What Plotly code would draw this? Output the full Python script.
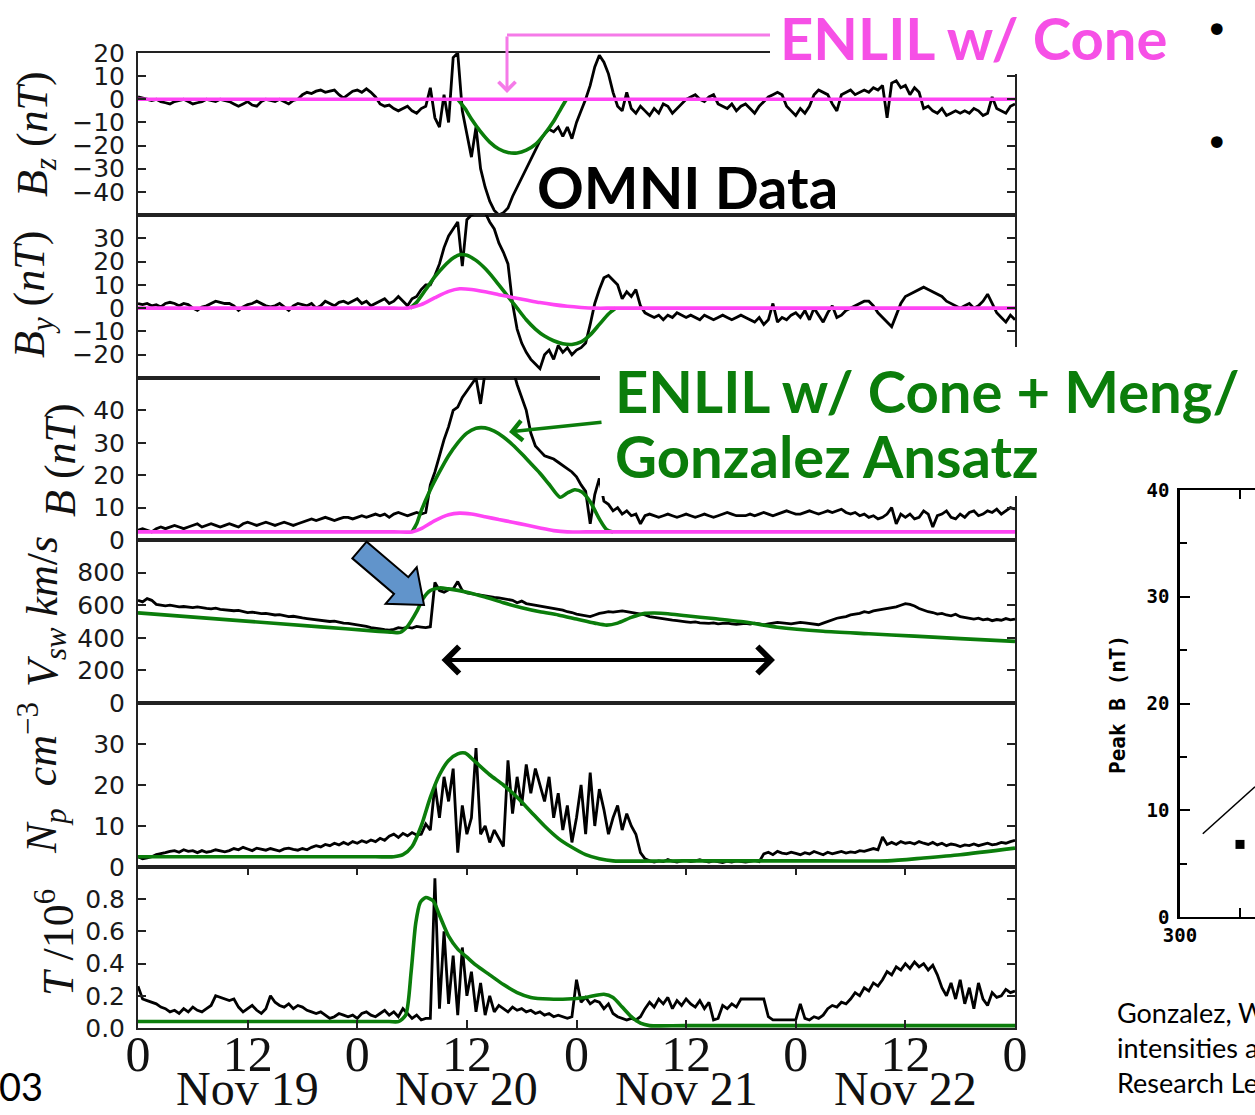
import numpy as np
import plotly.graph_objects as go

W, H = 1255, 1115

# ---------------- DATA ----------------
# OMNI data sampled every 0.5 h from Nov 19 00:00 (hours 0..96)
bz_omni = [1, 0.5, 0, -0.5, 0, -1, -1.5, -2, -1, -0.5, 0, -1, -2, -1.5, -1, 0, -0.5, -1, 0, -0.5,
           -1, -2, -3, -2, -1, -2.5, -3, -1, 0, -0.5, -1, 0, -1, -2, -0.5, 0,
           2, 3, 2.5, 3.5, 4, 3, 3.5, 4, 2, 0.5,
           2, 3.5, 4, 3, 4.5, 3, 1,
           -2, -3, -2.5, -4, -5, -4, -3, -5, -6, -4, -3,
           5, -8, -12, 2, -10, 18,
           20, -5, -15, -25, -12, -30, -38, -44, -48, -50, -49,
           -47, -42, -38, -34, -30, -26, -22, -18, -15, -13, -14, -12,
           -16, -12, -17, -10, -5, 0, 6, 14, 19,
           16, 11, 3, -3, -5, 3, -4, -6, -3,
           -5, -7, -4, -6, -2, -3, -6, -4, -2, 0,
           1, 2, 0, -1, 1, 2, -2, -3, -4, -2, -5, -3,
           -2, -4, -6, -3, -1, 1, 2, 3, 2, -3, -5, -7,
           -4, -6, -3, 2, 4, 3, 2, -2, -5, 2, 3, 4,
           2, 3, 4, 3, 5, 4, 6, -8, 7, 8, 5, 6,
           2, 5, 3, -4, -3, -5, -6, -4, -7, -6, -5, -6,
           -5, -6, -4, -5, -7, -6, 1, -4, -5, -6, -3, -2]

by_omni = [2, 1.5, 2, 1, 1.5, 0.5, 2, 2.5, 2, 1, 2, 1.5, 0, -1, 0.5, 1, 2, 3, 2.5, 2,
           2, 1, -1, 0.5, 1.5, 2, 3, 2, 1, 0.5, 1, 2, 0.5, -1, 1, 2,
           1.5, 1, 2, 0, 1, 3, 2, 1, 2.5, 3,
           2, 3, 4, 2, 3, 1, 2,
           3, 4, 2, 3, 5, 3, 1, 4, 5, 8, 10,
           10, 14, 19, 26, 31, 34,
           37, 18, 38, 40, 41, 41, 41, 37, 34, 28, 24,
           19, 2, -9, -15, -19, -22, -24, -26, -20, -18, -22, -16,
           -19, -17, -20, -18, -17, -15, -7, 2, 8,
           13, 14, 12, 10, 4, 7, 5, 8, 1,
           -2, -3, -4, -3, -5, -3, -4, -2, -3, -4,
           -3, -4, -5, -3, -4, -5, -4, -3, -4, -5, -4, -3,
           -4, -5, -6, -4, -7, -5, 2, -6, -4, -5, -3, -2,
           -4, -1, -5, 0, -3, -6, -2, 1, -4, -3, -1, 0,
           1, 2, 3, 3, 1, -2, -4, -6, -8, -3, 2, 5,
           6, 7, 8, 9, 8, 7, 6, 5, 3, 2, 1, 0,
           1, 2, 0, 1, 3, 6, 2, -2, -4, -6, -3, -5]

b_omni = [3, 3.5, 3, 2.5, 3.5, 4, 3.5, 4, 4.5, 4, 3.5, 4, 4.5, 5, 4, 4.5, 5, 4.5, 4, 4.5,
          5, 4.5, 4, 5, 5.5, 5, 4.5, 5, 5.5, 5, 4.5, 5, 5.5, 5, 4.5, 5,
          5.5, 6, 6.5, 6, 6.5, 7, 6.5, 6, 6.5, 7,
          7, 6.5, 7, 7.5, 7, 7.5, 8,
          7.5, 8, 7, 8, 8.5, 8, 7.5, 8, 8.5, 8, 8.5,
          17, 21, 26, 31, 35, 40,
          41, 44, 46, 48, 50, 42, 52, 52, 53, 52, 53,
          52, 53, 48, 44, 40, 33, 29, 27.5, 26, 25.5, 25, 24,
          23, 22, 21, 19.5, 17, 15, 5, 14, 19,
          12, 11, 9, 10, 8, 9, 7.5, 8, 5,
          7.5, 8, 7.5, 7, 7.5, 8, 7.5, 7, 7.5, 8,
          7.5, 7, 7.5, 8, 7.5, 7, 7.5, 8, 8.5, 8, 7.5, 7.5,
          7.5, 8, 7.5, 8, 8.5, 8, 7.5, 8, 8.5, 9, 8.5, 8,
          8, 8.5, 9, 8.5, 8, 8.5, 9, 8.5, 9, 9.5, 8.5, 8,
          8.5, 7.5, 8, 7, 7.5, 6.5, 7, 8, 10, 5, 8, 7,
          8, 6.5, 7, 9, 8, 4, 7.5, 8, 9, 7, 6.5, 8,
          7, 8.5, 9, 7.5, 8, 9, 8.5, 9.5, 8, 9, 10, 9.5]

v_omni = [630, 620, 640, 630, 605, 600, 596, 600, 594, 590, 592, 588, 585, 590, 583, 580, 578, 582, 575, 572,
          570, 566, 568, 560, 555, 558, 552, 548, 550, 545, 540, 542, 536, 530, 532, 525,
          522, 518, 515, 512, 508, 505, 500, 502, 495, 490,
          488, 484, 478, 474, 470, 462, 460,
          455, 450, 447, 452, 462, 458, 465, 460, 470, 466, 462,
          468, 740, 690, 680, 695, 700,
          745, 690, 675, 670, 665, 662, 655, 650, 648, 645, 640,
          635, 630, 615, 625, 610, 605, 600, 596, 590, 588, 580, 575,
          570, 560, 555, 545, 540, 535, 530, 540, 550,
          555, 560, 558, 562, 565, 560, 555, 550, 545,
          540, 530, 525, 520, 518, 512, 508, 505, 500, 498,
          495, 498, 492, 490, 488, 492, 485, 488, 490, 486, 482, 485,
          488, 484, 490, 486, 480, 485, 490, 495, 492, 488, 485, 490,
          495, 492, 488, 485, 480, 490, 500, 510, 520, 525, 530, 540,
          545, 550, 560, 555, 565, 570, 575, 580, 585, 590, 600, 610,
          605, 595, 580, 570, 560, 555, 545, 550, 540, 535, 545, 530,
          525, 520, 515, 520, 510, 515, 505, 512, 508, 518, 510, 515]

np_omni = [2.5, 2, 2.2, 2.5, 3, 3.2, 3.5, 3.8, 4, 3.6, 4.2, 3.8, 4, 3.5, 4, 3.6, 3.8, 4.2, 3.9, 3.7,
           4, 4.5, 4.2, 4.8, 4.4, 4, 4.6, 4.3, 4.1, 4.5, 4.2, 3.9, 4.4, 4.6, 4.3, 4.1,
           4.5, 4.2, 4.8, 5.2, 4.9, 5.5, 5.2, 5.8, 5.4, 6,
           5.5, 6.2, 5.8, 6.4, 6, 6.6, 6.2,
           7, 6.5, 7.5, 8, 7.2, 8.2, 7.6, 8.4, 7.8, 8, 10.5,
           9, 20, 12, 22, 16, 24,
           3.5, 15, 8, 12, 29, 8, 10, 6, 9, 7, 5,
           26, 13, 22, 15, 25, 18, 24, 20, 16, 22, 12, 18,
           9, 15, 6, 12, 20, 8, 23, 10, 19,
           14, 8, 12, 15, 9, 13, 10, 8, 3.5,
           2, 1.5, 1.2, 1.5, 1.3, 1.8, 1.4, 1.2, 1.5, 1.6,
           1.3, 1.5, 1.8, 1.4, 1.2, 1.5, 1.3, 1.1, 1.4, 1.2, 1.5, 1.3,
           1.2, 1.4, 1.6, 1.3, 3.2, 3.6, 3, 3.8, 3.4, 3.2, 3.6, 3.3,
           3, 3.5, 3.2, 3.8, 3.4, 3, 3.6, 3.2, 3.5, 3.8, 3.4, 3.7,
           3.5, 4, 3.8, 4.2, 4.5, 4.2, 7.3, 5.5, 6, 5.5, 6.2, 5.8,
           6, 5.6, 6.2, 5.8, 5.5, 6, 5.4, 5.8, 5.2, 5.6, 5.4, 5,
           5.4, 5.2, 5.6, 5.2, 5.5, 5.8, 5.4, 5.6, 6, 5.8, 6.2, 6.5]

t_omni = [0.26, 0.18, 0.17, 0.16, 0.15, 0.13, 0.12, 0.1, 0.11, 0.09, 0.12, 0.1, 0.13, 0.11, 0.1, 0.12, 0.14, 0.2, 0.19, 0.18,
          0.17, 0.18, 0.13, 0.1, 0.12, 0.14, 0.11, 0.09, 0.12, 0.2, 0.16, 0.14, 0.13, 0.15, 0.12, 0.14,
          0.13, 0.11, 0.1, 0.09, 0.1, 0.08, 0.06, 0.07, 0.09, 0.08,
          0.07, 0.08, 0.06, 0.09, 0.1, 0.08, 0.07,
          0.09, 0.11, 0.08, 0.1, 0.07, 0.12, 0.09, 0.06, 0.08, 0.05, 0.06,
          0.06, 0.93, 0.12, 0.6, 0.15, 0.45,
          0.08, 0.5, 0.2, 0.35, 0.1, 0.28, 0.08, 0.2, 0.1, 0.14, 0.12,
          0.1, 0.13, 0.11, 0.12, 0.1, 0.11, 0.09, 0.1, 0.08, 0.09, 0.07, 0.08,
          0.07, 0.06, 0.07, 0.3, 0.16, 0.19, 0.15, 0.17, 0.16,
          0.12, 0.15, 0.09, 0.07, 0.06, 0.05, 0.06, 0.05, 0.07,
          0.12, 0.16, 0.13, 0.18, 0.15, 0.19, 0.12, 0.17, 0.14, 0.18,
          0.15, 0.13, 0.17, 0.12, 0.16, 0.05, 0.06, 0.14, 0.12, 0.15, 0.13, 0.18,
          0.18, 0.18, 0.18, 0.18, 0.18, 0.07, 0.05, 0.05, 0.05, 0.05, 0.05, 0.05,
          0.15, 0.06, 0.05, 0.07, 0.06, 0.08, 0.12, 0.14, 0.13, 0.16, 0.15, 0.18,
          0.22, 0.2, 0.25, 0.23, 0.28, 0.26, 0.3, 0.35, 0.33, 0.38, 0.36, 0.4,
          0.37, 0.41, 0.38, 0.4, 0.36, 0.39, 0.33, 0.25, 0.2, 0.28, 0.18, 0.3,
          0.15, 0.25, 0.12, 0.28, 0.18, 0.14, 0.22, 0.19, 0.2, 0.24, 0.22, 0.23]

# ENLIL w/ Cone (magenta) model knots: hours, values
cone_bz_t = [0, 96]
cone_bz = [0, 0]
cone_by_t = [0, 20, 28, 29.5, 31, 32.5, 34, 35.2, 36.5, 38, 39.5, 41, 42.5, 44, 45.5, 47, 48.5, 50, 52, 60, 96]
cone_by = [0, 0, 0, 0, 1.5, 4.5, 7.2, 8.3, 8, 7, 5.8, 4.6, 3.5, 2.4, 1.5, 0.8, 0.3, 0, 0, 0, 0]
cone_b_t = [0, 20, 28, 30, 31, 32.5, 34, 35.2, 36.5, 38, 39.5, 41, 42.5, 44, 45.5, 47, 49, 60, 96]
cone_b = [2.5, 2.5, 2.5, 2.5, 3.5, 6, 7.8, 8.3, 8, 7.2, 6.3, 5.5, 4.6, 3.7, 2.9, 2.5, 2.5, 2.5, 2.5]

# ENLIL w/ Cone + Meng/Gonzalez Ansatz (green) model knots (disturbed interval; equals cone elsewhere)
ans_bz_t = [35.0, 35.8, 36.5, 37.5, 38.5, 39.5, 40.5, 41.5, 42.5, 43.5, 44.5, 45.5, 46.3, 46.9]
ans_bz = [0, -4, -8.5, -14, -18.5, -21.5, -23, -23.2, -22, -19.5, -15, -9.5, -4, 0]
ans_by_t = [29.8, 30.5, 31.5, 32.5, 33.5, 34.5, 35.3, 36, 37, 38, 39, 40, 41, 41.5, 42.5, 43.5, 44.5,
            45.5, 46.5, 47.5, 48.5, 49.5, 50.5, 51.5, 52.3]
ans_by = [0, 2.5, 8, 13.5, 18, 21.5, 23, 22.7, 20.5, 17, 12.5, 7.5, 2.5, 0, -5, -9, -12,
          -14, -15.3, -15.6, -14.5, -11.5, -7, -2.5, 0]
ans_b_t = [30, 30.5, 31, 32, 33, 34, 35, 36, 37, 38, 39, 40, 41, 42, 43, 44, 45, 46.2, 47, 47.8, 48.6,
           49.5, 50.5, 51.3, 52]
ans_b = [2.5, 5, 9, 15.5, 21, 26, 30, 33, 34.5, 34.6, 33.6, 31.8, 29.4, 26.6, 23.6, 20.6, 17.2, 13.2,
         14.5, 15.5, 14.8, 11.8, 6.5, 3.2, 2.5]
ans_v_t = [0, 10, 20, 26, 27.8, 28.7, 29.5, 30.5, 31.2, 32, 33, 34, 36, 38, 40, 42, 44, 46, 48, 50, 51.3,
           52.5, 54, 55.5, 56.5, 58, 60, 63, 66, 70, 75, 80, 85, 90, 96]
ans_v = [553, 510, 467, 441, 434, 433, 470, 560, 640, 690, 706, 700, 680, 650, 615, 585, 560, 540, 515,
         490, 478, 490, 525, 550, 552, 548, 535, 518, 500, 465, 440, 425, 410, 395, 378]
ans_np_t = [0, 20, 26, 28, 29, 30, 31, 32, 33, 34, 35, 35.8, 37, 38.5, 40, 41.5, 43, 44.5, 46, 47.5, 49,
            50.5, 52, 60, 75, 82, 86, 90, 96]
ans_np = [2.5, 2.5, 2.5, 2.5, 3, 5, 10, 17, 22.5, 26, 27.6, 27.8, 25.5, 22.5, 20, 17, 13.5, 10, 7, 4.8,
          3, 2, 1.5, 1.5, 1.5, 1.5, 2.2, 3, 4.6]
ans_t_t = [0, 20, 27.5, 28.5, 29.3, 29.9, 30.4, 30.9, 31.5, 32.3, 33, 34, 35, 36, 37, 38.5, 40, 41.5, 43,
           45, 47, 49, 51, 52, 53, 54, 55, 56, 60, 96]
ans_t = [0.04, 0.04, 0.04, 0.04, 0.08, 0.35, 0.65, 0.78, 0.81, 0.79, 0.7, 0.57, 0.49, 0.44, 0.39, 0.33,
         0.27, 0.22, 0.19, 0.18, 0.18, 0.19, 0.21, 0.19, 0.13, 0.07, 0.03, 0.015, 0.015, 0.015]

# Time axis ticks
x_tickvals = [0, 12, 24, 36, 48, 60, 72, 84, 96]
x_ticktext = ["0", "12", "0", "12", "0", "12", "0", "12", "0"]
day_pos = [12, 36, 60, 84]
day_labels = ["Nov 19", "Nov 20", "Nov 21", "Nov 22"]

# Inset (Gonzalez et al.) data
inset_fit_x = [319, 362.5]
inset_fit_y = [7.8, 12.2]
inset_pt_x = [350]
inset_pt_y = [6.8]

# ---------------- FIGURE ----------------
hours = np.linspace(0, 96, len(bz_omni))

def fx(p):
    return p / W

def fy(p):
    return 1 - p / H

edges = [53, 215, 378, 540, 703, 867, 1028]
panels = [
    dict(omni=bz_omni, cone=(cone_bz_t, cone_bz), ans=(ans_bz_t, ans_bz), rng=[-50, 20],
         ticks=[-40, -30, -20, -10, 0, 10, 20], fmt=None),
    dict(omni=by_omni, cone=(cone_by_t, cone_by), ans=(ans_by_t, ans_by), rng=[-30, 40],
         ticks=[-20, -10, 0, 10, 20, 30], fmt=None),
    dict(omni=b_omni, cone=(cone_b_t, cone_b), ans=(ans_b_t, ans_b), rng=[0, 50],
         ticks=[0, 10, 20, 30, 40], fmt=None),
    dict(omni=v_omni, cone=None, ans=(ans_v_t, ans_v), rng=[0, 1000],
         ticks=[0, 200, 400, 600, 800], fmt=None),
    dict(omni=np_omni, cone=None, ans=(ans_np_t, ans_np), rng=[0, 40],
         ticks=[0, 10, 20, 30], fmt=None),
    dict(omni=t_omni, cone=None, ans=(ans_t_t, ans_t), rng=[0, 1.0],
         ticks=[0, 0.2, 0.4, 0.6, 0.8], fmt=".1f"),
]

BLACK = "#000000"
GREEN = "#0b7d0b"
MAGENTA = "#ff45f4"
FRAME = "#222222"

fig = go.Figure()
layout = dict(width=W, height=H, autosize=False, margin=dict(l=0, r=0, t=0, b=0, pad=0),
              paper_bgcolor="white", plot_bgcolor="rgba(0,0,0,0)", showlegend=False)

tickfont = dict(family="DejaVu Sans", size=25, color="#1a1a1a")

for i, p in enumerate(panels, start=1):
    xa = "x" if i == 1 else f"x{i}"
    ya = "y" if i == 1 else f"y{i}"
    fig.add_trace(go.Scatter(x=hours, y=p["omni"], mode="lines", xaxis=xa, yaxis=ya,
                             line=dict(color=BLACK, width=2.8)))
    at, av = p["ans"]
    fig.add_trace(go.Scatter(x=at, y=av, mode="lines", xaxis=xa, yaxis=ya,
                             line=dict(color=GREEN, width=3.6, shape="spline", smoothing=0.7)))
    if p["cone"] is not None:
        ct, cv = p["cone"]
        fig.add_trace(go.Scatter(x=ct, y=cv, mode="lines", xaxis=xa, yaxis=ya,
                                 line=dict(color=MAGENTA, width=3.6, shape="spline", smoothing=0.7)))
    top, bot = edges[i - 1], edges[i]
    xkey = "xaxis" if i == 1 else f"xaxis{i}"
    ykey = "yaxis" if i == 1 else f"yaxis{i}"
    last = (i == 6)
    layout[xkey] = dict(domain=[fx(138), fx(1015)], anchor=ya, range=[0, 96], automargin=False,
                        showgrid=False, zeroline=False, showline=True, linecolor=FRAME, linewidth=2,
                        mirror="ticks" if last else True,
                        ticks="inside" if last else "", ticklen=8, tickwidth=1.5, tickcolor=FRAME,
                        tickvals=x_tickvals, ticktext=x_ticktext, showticklabels=last,
                        ticklabelstandoff=-19,
                        tickfont=dict(family="Liberation Serif", size=50, color="#111"))
    yd = dict(domain=[fy(bot), fy(top)], anchor=xa, range=p["rng"], automargin=False,
              showgrid=False, zeroline=False, showline=True, linecolor=FRAME, linewidth=2,
              mirror="ticks", ticks="inside", ticklen=8, tickwidth=1.5, tickcolor=FRAME,
              tickvals=p["ticks"], tickfont=tickfont, ticklabelstandoff=6)
    if p["fmt"]:
        yd["tickformat"] = p["fmt"]
    layout[ykey] = yd

# Inset axes (Gonzalez et al. figure)
fig.add_trace(go.Scatter(x=inset_fit_x, y=inset_fit_y, mode="lines", xaxis="x7", yaxis="y7",
                         line=dict(color="black", width=1.6)))
fig.add_trace(go.Scatter(x=inset_pt_x, y=inset_pt_y, mode="markers", xaxis="x7", yaxis="y7",
                         marker=dict(symbol="square", size=9, color="black")))
insfont = dict(family="DejaVu Sans Mono", size=19, color="black", weight="bold")
layout["xaxis7"] = dict(domain=[fx(1180), 1.0], anchor="y7", range=[300, 362.5], showgrid=False,
                        automargin=False,
                        zeroline=False, showline=True, linecolor="black", linewidth=2, mirror="ticks",
                        ticks="inside", ticklen=9, tickwidth=2, tickcolor="black",
                        tickvals=[300, 350], ticktext=["300", " "], tickfont=insfont)
layout["yaxis7"] = dict(domain=[fy(917), fy(490)], anchor="x7", range=[0, 40], showgrid=False,
                        automargin=False,
                        zeroline=False, showline=True, linecolor="black", linewidth=2.5, mirror=False,
                        ticks="inside", ticklen=10, tickwidth=2, tickcolor="black",
                        tickvals=[0, 10, 20, 30, 40], tickfont=insfont, ticklabelstandoff=4,
                        minor=dict(tickvals=[5, 15, 25, 35], ticks="inside", ticklen=7,
                                   tickwidth=2, tickcolor="black"))

# ---------------- ANNOTATIONS & SHAPES ----------------
ann = []
shapes = []

serif = "Liberation Serif"
ylab = dict(family=serif, size=44, color="#111")
ylabels = [
    ("<i>B</i><sub><i>z</i></sub> (<i>nT</i>)", 35, 134),
    ("<i>B</i><sub><i>y</i></sub> (<i>nT</i>)", 32, 295),
    ("<i>B</i> (<i>nT</i>)", 60, 460),
    ("<i>V</i><sub><i>sw</i></sub> <i>km</i>/<i>s</i>", 45, 612),
    ("<i>N</i><sub><i>p</i></sub>  <i>cm</i><sup>−3</sup>", 42, 778),
    ("<i>T</i> /10<sup>6</sup>", 55, 943),
]
for txt, cx, cy in ylabels:
    ann.append(dict(text=txt, x=fx(cx), y=fy(cy), xref="paper", yref="paper", showarrow=False,
                    textangle=-90, xanchor="center", yanchor="middle", font=ylab))

for pos, lab in zip(day_pos, day_labels):
    ann.append(dict(text=lab, x=pos, y=fy(1088), xref="x6", yref="paper", showarrow=False,
                    xanchor="center", yanchor="middle", font=dict(family=serif, size=48, color="#111")))

# white boxes behind callout labels (hide frame lines under the text)
shapes.append(dict(type="rect", xref="paper", yref="paper", x0=fx(770), x1=fx(1020), y0=fy(74), y1=1.0,
                   fillcolor="white", line=dict(width=0), layer="above"))
shapes.append(dict(type="rect", xref="paper", yref="paper", x0=fx(600), x1=fx(1020), y0=fy(496), y1=fy(347),
                   fillcolor="white", line=dict(width=0), layer="above"))

lab_font = "Lato"
PINK_TXT = "#f650e6"
LS = 58
ann.append(dict(text="<b>ENLIL w/ Cone</b>", x=fx(778), y=fy(37), xref="paper", yref="paper",
                showarrow=False, xanchor="left", yanchor="middle",
                font=dict(family=lab_font, size=LS, color=PINK_TXT)))
ann.append(dict(text="<b>OMNI Data</b>", x=fx(535), y=fy(186), xref="paper", yref="paper",
                showarrow=False, xanchor="left", yanchor="middle",
                font=dict(family=lab_font, size=LS, color="black")))
ann.append(dict(text="<b>ENLIL w/ Cone + Meng/</b>", x=fx(613), y=fy(390),
                xref="paper", yref="paper", showarrow=False, xanchor="left", yanchor="middle",
                font=dict(family=lab_font, size=LS, color=GREEN)))
ann.append(dict(text="<b>Gonzalez Ansatz</b>", x=fx(613), y=fy(455),
                xref="paper", yref="paper", showarrow=False, xanchor="left", yanchor="middle",
                font=dict(family=lab_font, size=LS, color=GREEN)))

# pink callout arrow
PINK_ARR = "#f57ae8"
shapes.append(dict(type="line", xref="paper", yref="paper", x0=fx(507), x1=fx(770), y0=fy(35), y1=fy(35),
                   line=dict(color=PINK_ARR, width=3), layer="above"))
ann.append(dict(text="", x=fx(507), y=fy(93), xref="paper", yref="paper", showarrow=True,
                ax=0, ay=-58, arrowhead=4, arrowsize=1.1, arrowwidth=3, arrowcolor=PINK_ARR))
# green callout arrow
ann.append(dict(text="", x=fx(509), y=fy(432), xref="paper", yref="paper", showarrow=True,
                ax=94, ay=-10, arrowhead=4, arrowsize=1.1, arrowwidth=3.5, arrowcolor=GREEN))
# double-headed duration arrow
ann.append(dict(text="", x=fx(775), y=fy(660), xref="paper", yref="paper", showarrow=True,
                ax=-335, ay=0, arrowhead=4, startarrowhead=4, arrowside="end+start",
                arrowsize=1.3, startarrowsize=1.3, arrowwidth=4, arrowcolor="black"))

# blue block arrow (shock arrival)
tail = np.array([359.5, 550.0])
tip = np.array([424.0, 605.0])
d = tip - tail
u = d / np.hypot(*d)
nrm = np.array([-u[1], u[0]])
w1, w2, hl = 11, 24, 30
base = tip - u * hl
pts = [tail + nrm * w1, base + nrm * w1, base + nrm * w2, tip, base - nrm * w2, base - nrm * w1, tail - nrm * w1]
path = "M " + " L ".join(f"{fx(px)},{fy(py)}" for px, py in pts) + " Z"
shapes.append(dict(type="path", xref="paper", yref="paper", path=path, fillcolor="#6194cb",
                   line=dict(color="black", width=2), layer="above"))

# bullets
for by_ in (30, 143):
    ann.append(dict(text="•", x=fx(1217), y=fy(by_), xref="paper", yref="paper", showarrow=False,
                    xanchor="center", yanchor="middle", font=dict(family="DejaVu Sans", size=40, color="black")))

# inset y label
ann.append(dict(text="Peak B (nT)", x=fx(1118), y=fy(705), xref="paper", yref="paper", showarrow=False,
                textangle=-90, xanchor="center", yanchor="middle",
                font=dict(family="DejaVu Sans Mono", size=21, color="black", weight="bold")))

# citation
ann.append(dict(text="Gonzalez, W. D., et al., Magnetic cloud field<br>intensities and solar wind velocities,<br>"
                     "Research Letters, 25, 963 (1998)",
                x=fx(1115), y=fy(994), xref="paper", yref="paper", showarrow=False, xanchor="left",
                yanchor="top", align="left", font=dict(family=lab_font, size=27, color="black")))
# slide number fragment
ann.append(dict(text="03", x=fx(-3), y=fy(1086), xref="paper", yref="paper", showarrow=False, xanchor="left",
                yanchor="middle", font=dict(family=lab_font, size=38, color="black")))

layout["annotations"] = ann
layout["shapes"] = shapes
fig.update_layout(**layout)
fig.write_html("out.html")
